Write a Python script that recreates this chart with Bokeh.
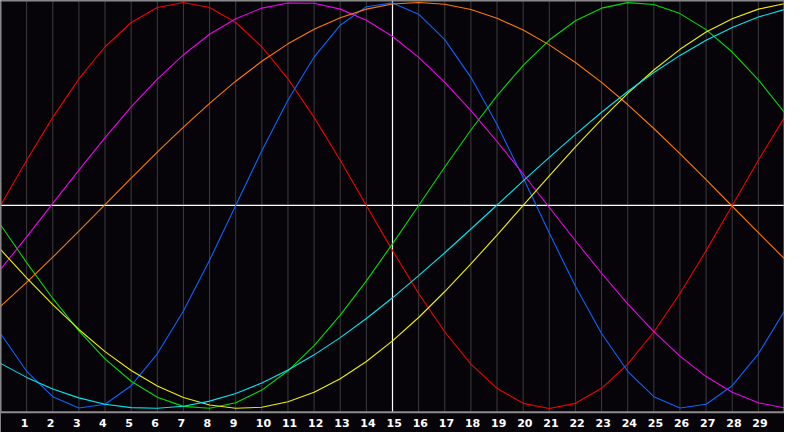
from bokeh.plotting import figure
from bokeh.models import Range1d, ColumnDataSource
from bokeh.core.properties import value
from bokeh.embed import file_html
from bokeh.resources import INLINE

# days shown on the chart (0 .. 30), tick labels 1 .. 29
days = list(range(31))
tick_days = list(range(1, 30))
tick_labels = [str(d) for d in tick_days]
today = 15

# cycle values (-1 .. 1) at each day
red = [0.0, 0.2225, 0.4339, 0.6235, 0.7818, 0.901, 0.9749, 1.0, 0.9749, 0.901, 0.7818, 0.6235,
       0.4339, 0.2225, 0.0, -0.2225, -0.4339, -0.6235, -0.7818, -0.901, -0.9749, -1.0, -0.9749,
       -0.901, -0.7818, -0.6235, -0.4339, -0.2225, 0.0, 0.2225, 0.4339]
blue = [-0.6311, -0.817, -0.9423, -0.9977, -0.9791, -0.8879, -0.7308, -0.5196, -0.2698, 0.0,
        0.2698, 0.5196, 0.7308, 0.8879, 0.9791, 0.9977, 0.9423, 0.817, 0.6311, 0.3984, 0.1362,
        -0.1362, -0.3984, -0.6311, -0.817, -0.9423, -0.9977, -0.9791, -0.8879, -0.7308, -0.5196]
green = [-0.0951, -0.2817, -0.4582, -0.6182, -0.7557, -0.866, -0.945, -0.9898, -0.9989, -0.9718,
         -0.9096, -0.8146, -0.6901, -0.5406, -0.3717, -0.1893, 0.0, 0.1893, 0.3717, 0.5406,
         0.6901, 0.8146, 0.9096, 0.9718, 0.9989, 0.9898, 0.945, 0.866, 0.7557, 0.6182, 0.4582]
magenta = [-0.315, -0.155, 0.01, 0.174, 0.334, 0.485, 0.622, 0.742, 0.843, 0.92, 0.972, 0.997,
           0.996, 0.967, 0.912, 0.832, 0.729, 0.606, 0.467, 0.315, 0.155, -0.01, -0.174, -0.334,
           -0.485, -0.622, -0.742, -0.843, -0.92, -0.972, -0.997]
orange = [-0.497, -0.379, -0.255, -0.127, 0.004, 0.134, 0.263, 0.386, 0.503, 0.612, 0.71, 0.796,
          0.868, 0.925, 0.967, 0.992, 1.0, 0.991, 0.965, 0.922, 0.864, 0.791, 0.704, 0.606, 0.497,
          0.379, 0.255, 0.127, -0.004, -0.134, -0.263]
yellow = [-0.217, -0.357, -0.489, -0.611, -0.72, -0.813, -0.889, -0.946, -0.983, -0.999, -0.994,
          -0.967, -0.92, -0.854, -0.769, -0.667, -0.552, -0.424, -0.288, -0.146, 0.0, 0.146, 0.288,
          0.424, 0.552, 0.667, 0.769, 0.854, 0.92, 0.967, 0.994]
cyan = [-0.778, -0.847, -0.904, -0.948, -0.979, -0.996, -0.999, -0.989, -0.964, -0.926, -0.875,
        -0.811, -0.736, -0.651, -0.557, -0.455, -0.346, -0.233, -0.116, 0.002, 0.121, 0.237, 0.35,
        0.459, 0.561, 0.655, 0.739, 0.814, 0.877, 0.928, 0.965]

series = [
    (red, "#f00000"),
    (blue, "#0a64ff"),
    (green, "#00dc00"),
    (magenta, "#f000f0"),
    (orange, "#ff7a00"),
    (yellow, "#f0f000"),
    (cyan, "#00e6f0"),
]

BG = "#060409"
Y_TOP = 1.0095
Y_FRAME_BOTTOM = -1.019
Y_LABEL = -1.071
Y_MIN = -1.1185

p = figure(width=784, height=432, output_backend="svg", toolbar_location=None,
           x_range=Range1d(0, 30), y_range=Range1d(Y_MIN, Y_TOP),
           min_border=0, background_fill_color=BG, border_fill_color=BG,
           outline_line_color=None)
p.axis.visible = False
p.grid.visible = False

# day grid lines
grid_days = [d for d in tick_days if d != today]
p.segment(x0=grid_days, y0=[Y_FRAME_BOTTOM] * len(grid_days),
          x1=grid_days, y1=[Y_TOP] * len(grid_days),
          line_color="#3c3c3c", line_width=1)

# zero line and today line
p.segment(x0=[0], y0=[0], x1=[30], y1=[0], line_color="white", line_width=1.2)
p.segment(x0=[today], y0=[Y_FRAME_BOTTOM], x1=[today], y1=[Y_TOP], line_color="white", line_width=1.2)

# curves
for vals, col in series:
    p.line(days, vals, line_color=col, line_width=1.1)

# frame border
p.line([0, 0, 30, 30, 0], [Y_FRAME_BOTTOM, Y_TOP, Y_TOP, Y_FRAME_BOTTOM, Y_FRAME_BOTTOM],
       line_color="#8c8c8c", line_width=2)

# day labels
src = ColumnDataSource(dict(x=tick_days, y=[Y_LABEL] * len(tick_days), t=tick_labels))
p.text(x="x", y="y", text="t", source=src, x_offset=-6, text_align="left",
       text_baseline="middle", text_color="white", text_font=value("DejaVu Sans"),
       text_font_style="bold", text_font_size="11px")

open("out.html", "w").write(file_html(p, INLINE))
